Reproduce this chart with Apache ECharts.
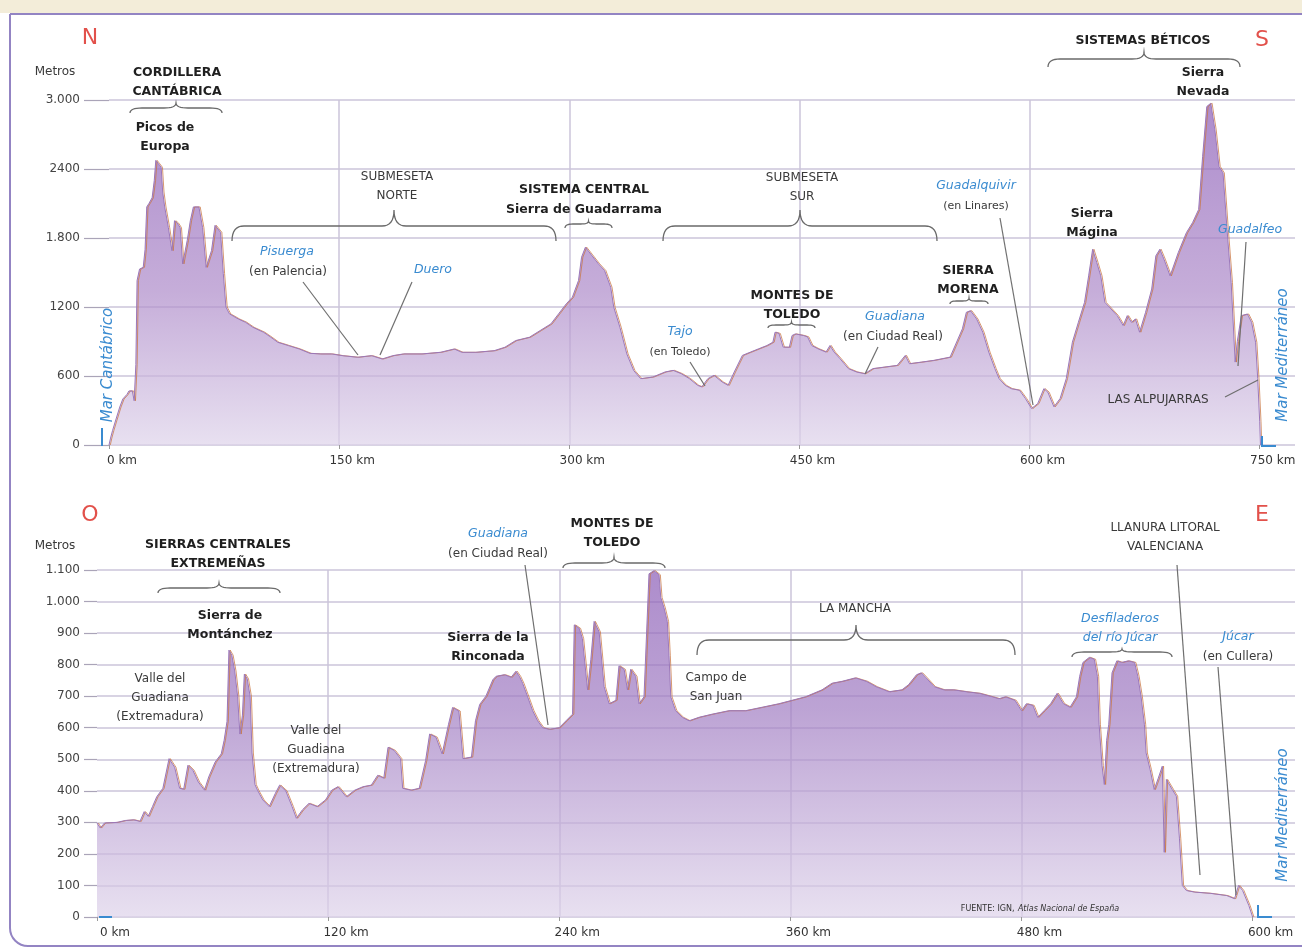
<!DOCTYPE html>
<html>
<head>
<meta charset="utf-8">
<title>Perfiles topográficos de la Península</title>
<script src="https://cdn.jsdelivr.net/npm/echarts@6/dist/echarts.min.js"></script>
<style>html,body{margin:0;padding:0;background:#fff;}</style>
</head>
<body>
<div id="main" style="width:1302px;height:949px;"></div>
<script>
// ---- perfil N-S (km / metros)
var topKm = [
  0, 1, 2.3, 4, 7, 9, 11.7, 13, 15.2, 16.4,
  17.5, 18.3, 19.9, 22.3, 23.5, 24.6, 26, 28.1, 29.5, 30.5,
  32, 34, 35, 36.3, 38.7, 41, 42.7, 44.5, 46.4, 48,
  51, 53, 55, 58.6, 61, 63.3, 66.8, 69.1, 72.7, 74.5,
  76.2, 78.5, 84.4, 89, 93.7, 100.8, 105.5, 110, 117, 124,
  131, 138, 145, 152, 162, 171, 178, 185, 192, 204,
  216, 225, 230, 239, 251, 258, 265, 274, 281, 288,
  293, 298, 302, 306, 308, 310.5, 314, 319, 323, 327,
  329, 333, 337.5, 342, 346.5, 354.4, 362.4, 367.7, 373, 378.3,
  383.6, 386.3, 390.3, 394.3, 399.6, 403.5, 407.5, 412.8, 418.1, 423.5,
  428.8, 432.7, 434.1, 436.7, 439.4, 443.4, 445.2, 447.3, 452.7, 455.3,
  458, 462, 467.3, 469.9, 472.6, 476.5, 481.9, 487.2, 492.5, 497.8,
  505.7, 513.7, 519, 521.7, 529.6, 537.6, 548.2, 556.2, 558.8, 561.5,
  565.5, 569.5, 573.4, 577.4, 580.1, 584.1, 588, 593.4, 597.3, 601.3,
  605.3, 609.3, 611.9, 615.9, 619.9, 623.9, 627.9, 631.8, 635.8, 638.5,
  641.1, 643.8, 646.4, 649.1, 653.1, 657.1, 661, 663.7, 666.4, 669,
  671.7, 675.6, 679.6, 682.3, 684.9, 687.6, 691.6, 696.9, 702.2, 706.2,
  710.2, 712.8, 715.5, 718.1, 720.8, 723.4, 726.1, 728.7, 731.4, 734,
  735.4, 738, 742, 744.7, 747.3, 748.7, 750, 750.5
];
var topElev = [
  0, 60, 125, 200, 330, 400, 440, 470, 470, 385,
  700, 1430, 1530, 1545, 1700, 2070, 2100, 2150, 2300, 2475,
  2450, 2415, 2200, 2070, 1890, 1690, 1950, 1930, 1890, 1575,
  1780, 1950, 2070, 2070, 1890, 1545, 1690, 1910, 1850, 1490,
  1200, 1140, 1095, 1067, 1024, 980, 937, 893, 864, 835,
  797, 792, 792, 777, 763, 777, 748, 777, 792, 792,
  806, 835, 806, 806, 820, 850, 908, 937, 995, 1053,
  1140, 1227, 1285, 1430, 1633, 1720, 1660, 1575, 1517, 1372,
  1198, 1024, 792, 647, 577, 591, 635, 649, 620, 577,
  519, 505, 577, 606, 548, 519, 635, 779, 808, 837,
  865, 894, 981, 970, 851, 850, 952, 966, 952, 940,
  865, 837, 808, 865, 808, 750, 664, 635, 620, 664,
  678, 692, 779, 707, 721, 736, 764, 1010, 1154, 1168,
  1096, 981, 808, 664, 577, 519, 490, 476, 404, 317,
  360, 490, 460, 332, 404, 577, 894, 1067, 1240, 1471,
  1702, 1587, 1471, 1240, 1183, 1125, 1039, 1125, 1067, 1096,
  981, 1154, 1356, 1645, 1702, 1616, 1471, 1673, 1846, 1933,
  2048, 2510, 2943, 2972, 2740, 2423, 2366, 1875, 1413, 721,
  900, 1125, 1139, 1067, 894, 577, 202, 0
];
var topXTicks = [0, 150, 300, 450, 600, 750];
var topYTicks = [0, 600, 1200, 1800, 2400, 3000];
var topYLabels = ['0', '600', '1200', '1.800', '2400', '3.000'];

// ---- perfil O-E (km / metros)
var bottomKm = [
  0, 1.7, 3.9, 10.4, 14.7, 19, 22.3, 24.5, 26.6, 28.8,
  31, 34.2, 37.4, 40.3, 42.9, 45, 47.2, 49.8, 52.6, 55.8,
  58, 61.3, 64.5, 66, 67.5, 68.5, 70, 71.5, 73, 74.2,
  75.5, 76.5, 78, 79.5, 80.5, 82, 83.5, 86.1, 89.4, 92.6,
  94.8, 98, 101.3, 103.5, 106.7, 110, 114.3, 118.6, 121.9, 125.1,
  129.4, 133.8, 138.1, 142.4, 145.7, 148.9, 151.1, 154.3, 157.6, 158.7,
  163, 167.3, 170.6, 172.7, 176, 179.2, 182.5, 184.6, 187.9, 190,
  194.4, 196.5, 198.7, 201.9, 205.5, 207.2, 211.5, 215, 217.5, 219.3,
  221, 223.6, 226.2, 228.8, 231.4, 234.8, 240, 243.5, 246.9, 247.8,
  250.4, 252, 254.7, 256.4, 258.1, 260.7, 263.3, 265.9, 269.4, 271,
  273.7, 275.4, 277.1, 279.7, 281.4, 284, 286.6, 289.2, 291.8, 292.7,
  294.4, 296.1, 297, 297.9, 300.4, 303.9, 307.4, 312.5, 319.4, 328.1,
  336.7, 345.4, 354, 360.9, 367.8, 376.4, 381.6, 386.8, 393.7, 399.5,
  404.5, 411.2, 417.9, 421.3, 425.5, 428, 430.5, 434.7, 439.7, 444.8,
  451.5, 458.2, 464.9, 468.3, 471.6, 476.6, 480, 482.5, 485.9, 488.4,
  491.7, 495.1, 498.5, 501.8, 505.2, 508.5, 510.2, 511.9, 515.2, 517.8,
  519.4, 520.3, 521.8, 523, 524.2, 525.3, 527, 529.5, 532, 535.4,
  538.7, 540.4, 542.1, 543.8, 544.7, 546.8, 548.9, 551, 553.1, 554.1,
  555.2, 558.3, 560.4, 562, 563.5, 565.6, 569.8, 578, 586.5, 590.6,
  592.7, 594.8, 598, 600
];
var bottomElev = [
  298, 282, 298, 300, 306, 308, 303, 334, 319, 350,
  381, 408, 502, 475, 408, 405, 481, 465, 428, 402,
  444, 491, 517, 560, 620, 846, 830, 780, 700, 580,
  640, 770, 755, 700, 520, 420, 400, 371, 350, 392,
  418, 400, 350, 313, 340, 360, 350, 371, 402, 413,
  381, 402, 413, 418, 449, 440, 538, 528, 502, 408,
  402, 408, 496, 580, 570, 517, 611, 664, 653, 502,
  507, 622, 674, 700, 752, 763, 768, 760, 779, 763,
  741, 698, 654, 622, 600, 595, 600, 622, 643, 926,
  915, 883, 720, 817, 937, 904, 730, 676, 687, 796,
  785, 720, 785, 763, 676, 698, 1088, 1098, 1085, 1013,
  980, 937, 828, 698, 654, 633, 622, 633, 643, 654,
  654, 665, 676, 687, 698, 720, 741, 747, 758, 747,
  730, 714, 720, 736, 768, 774, 758, 730, 720, 720,
  714, 709, 698, 692, 698, 687, 654, 676, 671, 633,
  654, 676, 709, 676, 665, 698, 763, 807, 823, 817,
  763, 611, 480, 420, 560, 611, 774, 812, 807, 812,
  807, 763, 698, 611, 520, 467, 404, 440, 478, 205,
  436, 404, 383, 250, 100, 84, 79, 75, 68, 58,
  100, 84, 37, 0
];
var bottomXTicks = [0, 120, 240, 360, 480, 600];
var bottomYTicks = [0, 100, 200, 300, 400, 500, 600, 700, 800, 900, 1000, 1100];
var bottomYLabels = ['0', '100', '200', '300', '400', '500', '600', '700', '800', '900', '1.000', '1.100'];

function pairs(xs, ys) {
  var out = [];
  for (var i = 0; i < Math.min(xs.length, ys.length); i++) out.push([xs[i], ys[i]]);
  return out;
}

var FONT = '"DejaVu Sans", "Open Sans", sans-serif';
var BLUE = '#3a8bd0';
var DARK = '#1f1f1f';
var GREY = '#3a3a3a';
var RED = '#e2514b';

function txt(x, y, s, font, color, rot) {
  return {
    type: 'text', x: x, y: y, z: 100, rotation: rot || 0, silent: true,
    style: {
      text: s, font: font, fill: color, lineHeight: 19,
      align: 'center', verticalAlign: 'middle',
      textAlign: 'center', textVerticalAlign: 'middle'
    }
  };
}
function bold(x, y, s) { return txt(x, y, s, 'bold 12.5px ' + FONT, DARK); }
function plain(x, y, s) { return txt(x, y, s, '12px ' + FONT, GREY); }
function river(x, y, s) { return txt(x, y, s, 'italic 12.5px ' + FONT, BLUE); }
function seg(x1, y1, x2, y2, color, w) {
  return { type: 'line', z: 90, silent: true, shape: { x1: x1, y1: y1, x2: x2, y2: y2 },
    style: { stroke: color || '#6f6f6f', lineWidth: w || 1.2 } };
}
// llave horizontal, punta hacia arriba
function brace(x1, x2, y, tip, end) {
  var cx = (x1 + x2) / 2, r = Math.min(12, (x2 - x1) / 6), pts = [];
  function quad(p0, c, p1) {
    for (var t = 0; t <= 1.0001; t += 0.125) {
      var a = (1 - t) * (1 - t), b = 2 * (1 - t) * t, d = t * t;
      pts.push([a * p0[0] + b * c[0] + d * p1[0], a * p0[1] + b * c[1] + d * p1[1]]);
    }
  }
  quad([x1, y + end], [x1, y], [x1 + r, y]);
  quad([cx - r, y], [cx, y], [cx, y - tip]);
  quad([cx, y - tip], [cx, y], [cx + r, y]);
  quad([x2 - r, y], [x2, y], [x2, y + end]);
  return { type: 'polyline', z: 90, silent: true, shape: { points: pts },
    style: { stroke: '#6a6a6a', lineWidth: 1.3, fill: null } };
}

var graphics = [
  { type: 'rect', z: 0, silent: true, shape: { x: 0, y: 0, width: 1302, height: 13 }, style: { fill: '#f3edd9' } },
  { type: 'rect', z: 0, silent: true, shape: { x: 10, y: 14, width: 1330, height: 932, r: [0, 0, 0, 18] },
    style: { fill: null, stroke: '#9384c3', lineWidth: 2 } },

  // ---- N-S
  txt(90, 38, 'N', '22px ' + FONT, RED),
  txt(1262, 40, 'S', '22px ' + FONT, RED),
  txt(55, 72, 'Metros', '12px ' + FONT, GREY),
  bold(177, 82, 'CORDILLERA\nCANTÁBRICA'),
  brace(130, 222, 108, 5, 5),
  bold(165, 137, 'Picos de\nEuropa'),
  plain(397, 186, 'SUBMESETA\nNORTE'),
  brace(232, 556, 226, 16, 15),
  bold(584, 190, 'SISTEMA CENTRAL'),
  bold(584, 210, 'Sierra de Guadarrama'),
  brace(565, 612, 224, 3, 4),
  plain(802, 187, 'SUBMESETA\nSUR'),
  brace(663, 937, 226, 16, 15),
  river(287, 252, 'Pisuerga'),
  plain(288, 272, '(en Palencia)'),
  seg(303, 282, 358, 355),
  river(433, 270, 'Duero'),
  seg(412, 282, 380, 355),
  river(680, 332, 'Tajo'),
  txt(680, 352, '(en Toledo)', '11px ' + FONT, GREY),
  seg(690, 362, 705, 386),
  bold(792, 305, 'MONTES DE\nTOLEDO'),
  brace(768, 815, 325, 3, 3),
  river(895, 317, 'Guadiana'),
  plain(893, 337, '(en Ciudad Real)'),
  seg(878, 347, 865, 374),
  bold(968, 280, 'SIERRA\nMORENA'),
  brace(950, 988, 301, 3, 3),
  river(976, 186, 'Guadalquivir'),
  txt(976, 206, '(en Linares)', '11px ' + FONT, GREY),
  seg(1000, 218, 1033, 405),
  bold(1092, 223, 'Sierra\nMágina'),
  bold(1143, 41, 'SISTEMAS BÉTICOS'),
  brace(1048, 1240, 59, 7, 8),
  bold(1203, 82, 'Sierra\nNevada'),
  river(1250, 230, 'Guadalfeo'),
  seg(1246, 242, 1238, 366),
  plain(1158, 400, 'LAS ALPUJARRAS'),
  seg(1225, 397, 1258, 380),
  txt(108, 365, 'Mar Cantábrico', 'italic 15px ' + FONT, BLUE, Math.PI / 2),
  seg(102, 428, 102, 446, BLUE, 2),
  txt(1283, 355, 'Mar Mediterráneo', 'italic 15px ' + FONT, BLUE, Math.PI / 2),
  seg(1262, 436, 1262, 447, BLUE, 2),
  seg(1262, 446, 1276, 446, BLUE, 2),

  // ---- O-E
  txt(90, 515, 'O', '22px ' + FONT, RED),
  txt(1262, 515, 'E', '22px ' + FONT, RED),
  txt(55, 546, 'Metros', '12px ' + FONT, GREY),
  bold(218, 554, 'SIERRAS CENTRALES\nEXTREMEÑAS'),
  brace(158, 280, 588, 5, 5),
  bold(230, 625, 'Sierra de\nMontánchez'),
  plain(160, 698, 'Valle del\nGuadiana\n(Extremadura)'),
  plain(316, 750, 'Valle del\nGuadiana\n(Extremadura)'),
  bold(488, 647, 'Sierra de la\nRinconada'),
  river(498, 534, 'Guadiana'),
  plain(498, 554, '(en Ciudad Real)'),
  seg(525, 565, 548, 725),
  bold(612, 533, 'MONTES DE\nTOLEDO'),
  brace(563, 665, 563, 6, 5),
  plain(855, 609, 'LA MANCHA'),
  brace(697, 1015, 640, 15, 15),
  plain(716, 687, 'Campo de\nSan Juan'),
  river(1120, 628, 'Desfiladeros\ndel río Júcar'),
  brace(1072, 1172, 652, 3, 5),
  plain(1165, 537, 'LLANURA LITORAL\nVALENCIANA'),
  seg(1177, 565, 1200, 875),
  river(1238, 637, 'Júcar'),
  plain(1238, 657, '(en Cullera)'),
  seg(1218, 667, 1236, 895),
  txt(1283, 815, 'Mar Mediterráneo', 'italic 15px ' + FONT, BLUE, Math.PI / 2),
  seg(1258, 905, 1258, 918, BLUE, 2),
  seg(1258, 917, 1272, 917, BLUE, 2),
  seg(99, 917, 112, 917, BLUE, 2),
  {
    type: 'text', x: 1040, y: 909, z: 100, silent: true,
    style: {
      text: '{a|FUENTE: IGN,} {b|Atlas Nacional de España}',
      align: 'center', verticalAlign: 'middle', textAlign: 'center', textVerticalAlign: 'middle',
      rich: {
        a: { font: '8px ' + FONT, fill: '#333' },
        b: { font: 'italic 8px ' + FONT, fill: '#333' }
      }
    }
  }
];

function areaGrad(mid, midColor) {
  return new echarts.graphic.LinearGradient(0, 0, 0, 1, [
    { offset: 0, color: '#8a5bb6' },
    { offset: mid, color: midColor },
    { offset: 1, color: '#ded3ea' }
  ]);
}

function xAxisOf(idx, max, interval, ticks, pad) {
  return {
    gridIndex: idx, type: 'value', min: 0, max: max, interval: interval,
    axisLine: { show: false },
    axisTick: { show: true, length: 4, customValues: ticks, lineStyle: { color: '#999' } },
    axisLabel: {
      customValues: ticks, formatter: '{value} km', color: '#333', fontSize: 12,
      fontFamily: FONT, margin: 10, padding: [0, 0, 0, pad]
    },
    splitLine: { show: true, showMinLine: false, showMaxLine: false, lineStyle: { color: '#cbc4da', width: 1.5 } }
  };
}
function yAxisOf(idx, max, interval, ticks, labels, tickLen) {
  return {
    gridIndex: idx, type: 'value', min: 0, max: max, interval: interval,
    axisLine: { show: false },
    axisTick: { show: true, length: tickLen, lineStyle: { color: '#aaa4b8', width: 1.2 } },
    axisLabel: {
      color: '#444', fontSize: 12, fontFamily: FONT, margin: tickLen + 4,
      formatter: function (v) { var i = ticks.indexOf(v); return i < 0 ? '' : labels[i]; }
    },
    splitLine: { show: true, lineStyle: { color: '#cbc4da', width: 1.5 } }
  };
}

var myChart = echarts.init(document.getElementById('main'));
var option = {
  animation: false,
  backgroundColor: '#ffffff',
  grid: [
    { left: 109, right: 7, top: 100, height: 345 },
    { left: 97, right: 7, top: 570, height: 347 }
  ],
  xAxis: [
    xAxisOf(0, 773, 150, topXTicks, 26),
    xAxisOf(1, 622, 120, bottomXTicks, 36)
  ],
  yAxis: [
    yAxisOf(0, 3000, 600, topYTicks, topYLabels, 25),
    yAxisOf(1, 1100, 100, bottomYTicks, bottomYLabels, 13)
  ],
  series: [
    {
      name: 'Perfil N-S', type: 'line', xAxisIndex: 0, yAxisIndex: 0,
      data: pairs(topKm, topElev), showSymbol: false, symbol: 'none', silent: true,
      lineStyle: { color: '#9a77b9', width: 1, shadowColor: 'rgba(200,118,66,0.75)', shadowOffsetX: 1.3 },
      areaStyle: { color: areaGrad(0.55, '#ad8ac9') }
    },
    {
      name: 'Perfil O-E', type: 'line', xAxisIndex: 1, yAxisIndex: 1,
      data: pairs(bottomKm, bottomElev), showSymbol: false, symbol: 'none', silent: true,
      lineStyle: { color: '#9a77b9', width: 1, shadowColor: 'rgba(200,118,66,0.75)', shadowOffsetX: 1.3 },
      areaStyle: { color: areaGrad(0.4, '#a07cc2') }
    }
  ],
  graphic: graphics
};
myChart.setOption(option);
</script>
</body>
</html>
